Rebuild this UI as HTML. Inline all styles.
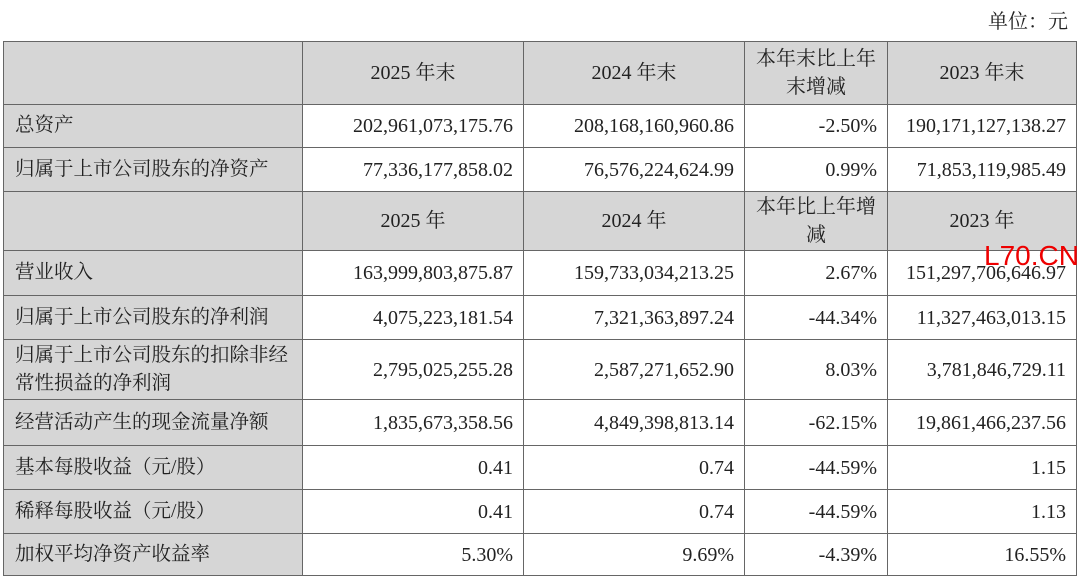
<!DOCTYPE html>
<html><head><meta charset="utf-8"><style>
body{margin:0;width:1080px;height:576px;background:#fff;overflow:hidden;position:relative;font-family:"Liberation Serif","Noto Serif CJK SC",serif;color:#222;}
.c{position:absolute;box-sizing:border-box;border-right:1px solid #666;border-bottom:1px solid #666;display:flex;align-items:center;font-size:20px;line-height:28px;}
.g{background:#d6d6d6;}
.r{justify-content:flex-end;padding-right:10px;}
.m{justify-content:center;text-align:center;}
.l{padding-left:11px;font-size:19.5px;}
</style></head><body>
<div style="position:absolute;left:988px;top:5px;font-size:20px;">单位：元</div>
<div style="position:absolute;left:3px;top:41px;width:1074px;height:535px;border-top:1px solid #666;border-left:1px solid #666;box-sizing:border-box;"></div>
<div id="t"></div>
<div style="position:absolute;left:984px;top:240px;font-family:'Liberation Sans',sans-serif;font-size:28px;color:#e00;">L70.CN</div>
<script>
const ys=[42,105,148,192,251,296,340,400,446,490,534,576];
const xs=[4,303,524,745,888,1077];
const rows=[
["h","","2025 年末","2024 年末","本年末比上年<br>末增减","2023 年末"],
["d","总资产","202,961,073,175.76","208,168,160,960.86","-2.50%","190,171,127,138.27"],
["d","归属于上市公司股东的净资产","77,336,177,858.02","76,576,224,624.99","0.99%","71,853,119,985.49"],
["h","","2025 年","2024 年","本年比上年增<br>减","2023 年"],
["d","营业收入","163,999,803,875.87","159,733,034,213.25","2.67%","151,297,706,646.97"],
["d","归属于上市公司股东的净利润","4,075,223,181.54","7,321,363,897.24","-44.34%","11,327,463,013.15"],
["d","归属于上市公司股东的扣除非经<br>常性损益的净利润","2,795,025,255.28","2,587,271,652.90","8.03%","3,781,846,729.11"],
["d","经营活动产生的现金流量净额","1,835,673,358.56","4,849,398,813.14","-62.15%","19,861,466,237.56"],
["d","基本每股收益（元/股）","0.41","0.74","-44.59%","1.15"],
["d","稀释每股收益（元/股）","0.41","0.74","-44.59%","1.13"],
["d","加权平均净资产收益率","5.30%","9.69%","-4.39%","16.55%"]];
let h="";
rows.forEach((r,i)=>{for(let j=0;j<5;j++){
 let cls="c";
 if(r[0]=="h"){cls+=" g m";} else {cls+=j==0?" g l":" r";}
 h+=`<div class="${cls}" style="left:${xs[j]}px;top:${ys[i]}px;width:${xs[j+1]-xs[j]}px;height:${ys[i+1]-ys[i]}px">${r[j+1]}</div>`;
}});
document.getElementById("t").innerHTML=h;
</script>
</body></html>
